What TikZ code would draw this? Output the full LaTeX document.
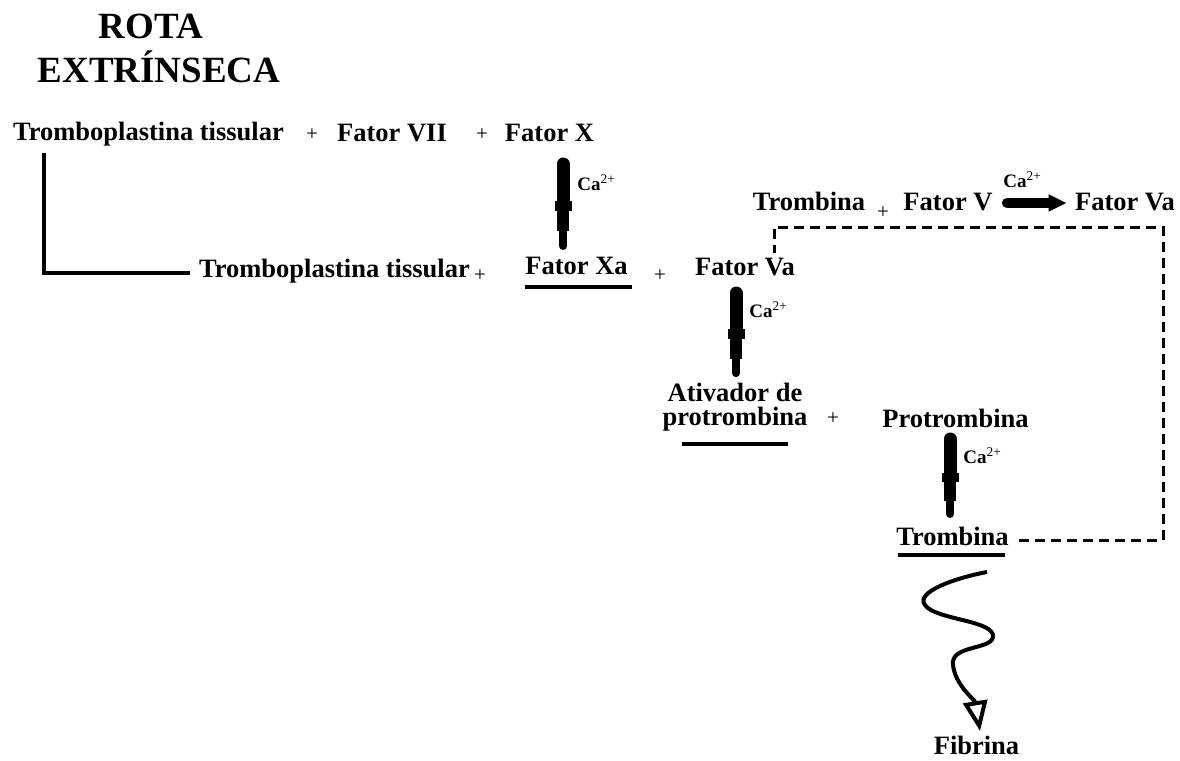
\documentclass[tikz,border=0pt]{standalone}
\usepackage{fontspec}
\setmainfont{Liberation Serif}
\usetikzlibrary{arrows.meta,calc}

\tikzset{every picture/.style={line width=0.75pt}}

\begin{document}
\begin{tikzpicture}[x=1pt,y=1pt,yscale=-1,xscale=1,
	every node/.style={inner sep=0pt,anchor=base},
	titl/.style={font=\fontsize{37}{40}\selectfont\bfseries},
	lbl/.style={font=\fontsize{26.5}{30}\selectfont\bfseries},
	plus/.style={font=\fontsize{21}{22}\selectfont},
	ion/.style={font=\fontsize{19}{22}\selectfont,anchor=base west},
	ul/.style={line width=3.5},
	conn/.style={line width=3.5},
	carod/.style={line width=13,line cap=round},
	cashoulder/.style={line width=17},
	catip/.style={line width=12},
	caend/.style={line width=8,line cap=round},
	cahoriz/.style={line width=10,line cap=round,-{Triangle[length=18pt,width=16pt]}},
	dashline/.style={line width=3,dash pattern=on 10pt off 6pt},
	wave/.style={line width=4,-{Triangle[open,length=30pt,width=24pt]}}]
	\useasboundingbox (0,0) rectangle (1180,760);

	% Text Node
	\node[titl] (rota) at (151,39) {ROTA};
	% Text Node
	\node[titl] (extr) at (159,82) {EXTRÍNSECA};

	% Text Node
	\node[lbl] (tt1) at (148.5,140) {Tromboplastina tissular};
	\node[plus] (p1) at (312,140) {+};
	\node[lbl] (f7) at (392,141) {Fator VII};
	\node[plus] (p2) at (482,140) {+};
	\node[lbl] (fx) at (549.5,141) {Fator X};
	% Text Node
	\node[lbl] (tt2) at (334.5,277) {Tromboplastina tissular};
	\node[plus] (p3) at (480,281) {+};
	\node[lbl] (fxa) at (576.5,274) {Fator Xa};
	\node[plus] (p4) at (660,281) {+};
	\node[lbl] (fva) at (745,275) {Fator Va};
	% Text Node
	\node[lbl,font=\fontsize{26.5}{24}\selectfont\bfseries,align=center,anchor=center] (ativ) at (735,407.5) {Ativador de\\protrombina};
	\node[plus] (p5) at (833,424) {+};
	\node[lbl] (pro) at (955.5,427) {Protrombina};
	% Text Node
	\node[lbl] (trb) at (952.5,545) {Trombina};
	\node[lbl] (fib) at (976.5,754) {Fibrina};
	% Text Node
	\node[lbl] (trb2) at (809,210) {Trombina};
	\node[plus] (p6) at (883,218) {+};
	\node[lbl] (fv) at (948,210) {Fator V};
	\node[lbl] (fva2) at (1125,210) {Fator Va};

	% Ca labels
	\node[ion] (ca1) at (577,190) {\textbf{Ca}\textsuperscript{2+}};
	\node[ion] (ca2) at (749,317) {\textbf{Ca}\textsuperscript{2+}};
	\node[ion] (ca3) at (963,463) {\textbf{Ca}\textsuperscript{2+}};
	\node[ion] (ca4) at (1003,187) {\textbf{Ca}\textsuperscript{2+}};

	%Straight Lines: tissue factor bracket
	\draw[conn] ($(tt1.base west)+(31,13)$) |- ($(tt2.base west)+(-9,-4)$);

	%Arrow: Fator X -> Fator Xa
	\coordinate (a1s) at ($(fx.base)+(13.5,23)$);
	\coordinate (a1e) at ($(fxa.base)+(-13.5,-28)$);
	\draw[carod] (a1s) -- ($(a1s)!0.5!(a1e)$);
	\draw[cashoulder] ($(a1s)!0.45!(a1e)$) -- ($(a1s)!0.57!(a1e)$);
	\draw[catip] ($(a1s)!0.5!(a1e)$) -- ($(a1s)!0.82!(a1e)$);
	\draw[caend] ($(a1s)!0.8!(a1e)$) -- (a1e);
	%Arrow: Fator Va -> Ativador de protrombina
	\coordinate (a2s) at ($(fva.base)+(-9,18)$);
	\coordinate (a2e) at ($(ativ.north)+(1,-10)$);
	\draw[carod] (a2s) -- ($(a2s)!0.5!(a2e)$);
	\draw[cashoulder] ($(a2s)!0.45!(a2e)$) -- ($(a2s)!0.57!(a2e)$);
	\draw[catip] ($(a2s)!0.5!(a2e)$) -- ($(a2s)!0.82!(a2e)$);
	\draw[caend] ($(a2s)!0.8!(a2e)$) -- (a2e);
	%Arrow: Protrombina -> Trombina
	\coordinate (a3s) at ($(pro.base)+(-5.5,12)$);
	\coordinate (a3e) at ($(trb.base)+(-2.5,-31)$);
	\draw[carod] (a3s) -- ($(a3s)!0.5!(a3e)$);
	\draw[cashoulder] ($(a3s)!0.45!(a3e)$) -- ($(a3s)!0.57!(a3e)$);
	\draw[catip] ($(a3s)!0.5!(a3e)$) -- ($(a3s)!0.82!(a3e)$);
	\draw[caend] ($(a3s)!0.8!(a3e)$) -- (a3e);
	%Arrow: Fator V -> Fator Va
	\draw[cahoriz] ($(fv.base east)+(14,-7)$) -- ($(fva2.base west)+(-8,-7)$);

	%Underlines
	\draw[ul] ($(fxa.base)+(-51.5,13)$) -- ($(fxa.base)+(55.5,13)$);
	\draw[ul] ($(ativ.south)+(-53,12)$) -- ($(ativ.south)+(53,12)$);
	\draw[ul] ($(trb.base)+(-54.5,10)$) -- ($(trb.base)+(52.5,10)$);

	%Dashed feedback: Trombina -> Fator Va
	\draw[dashline] ($(trb.base east)+(10,-5)$) -| ($(fva2.base)+(38,17)$) -| ($(fva.base)+(29,-22)$);

	%Wavy arrow: Trombina -> Fibrina
	\draw[wave] ($(trb.base)+(34.5,27)$) .. controls (955,578) and (915,592) .. (925,605)
		.. controls (935,620) and (995,620) .. (993,637)
		.. controls (991,650) and (950,645) .. (953,665)
		.. controls (955,685) and (975,700) .. ($(fib.base)+(3.5,-23)$);

\end{tikzpicture}
\end{document}
